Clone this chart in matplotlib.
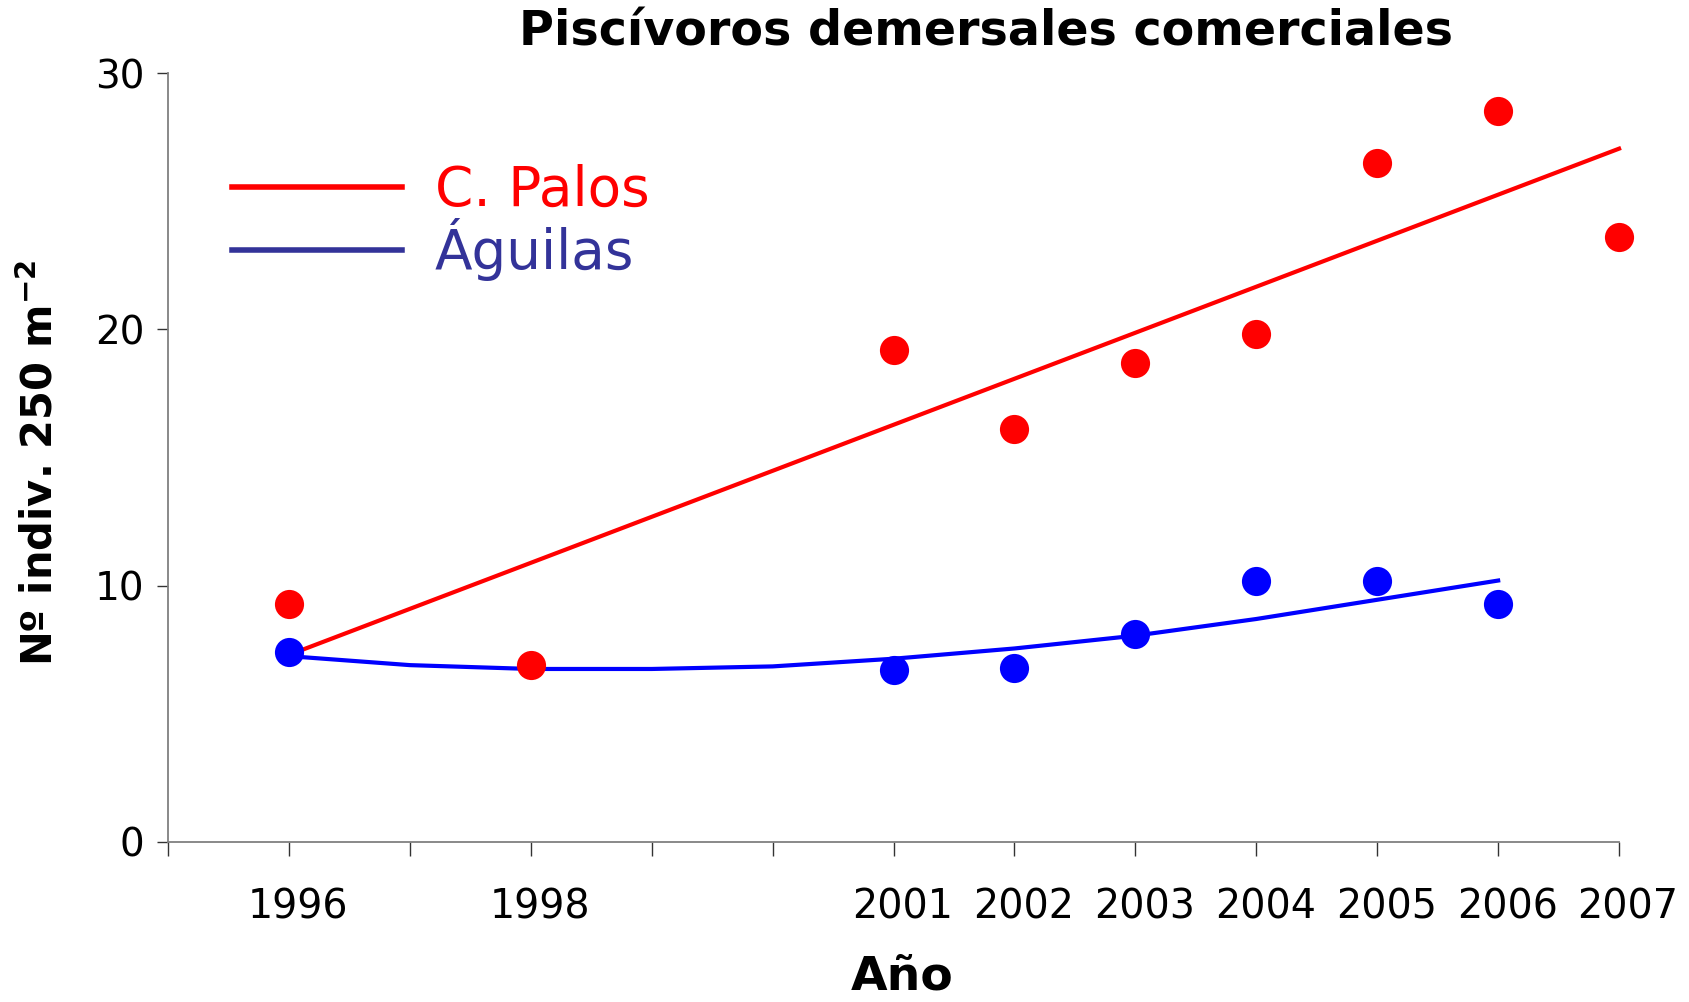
import matplotlib
matplotlib.use('Agg')
import matplotlib.pyplot as plt
from matplotlib.lines import Line2D
from matplotlib.transforms import ScaledTranslation

# observed values
years_palos = [1996, 1998, 2001, 2002, 2003, 2004, 2005, 2006, 2007]
palos = [9.3, 6.9, 19.2, 16.1, 18.7, 19.8, 26.5, 28.5, 23.6]
years_aguilas = [1996, 2001, 2002, 2003, 2004, 2005, 2006]
aguilas = [7.4, 6.7, 6.8, 8.1, 10.2, 10.2, 9.3]

# fitted trends
trend_palos_years = [1996, 2007]
trend_palos = [7.3, 27.05]
trend_aguilas_years = [1996, 1997, 1998, 1999, 2000, 2001, 2002, 2003, 2004, 2005, 2006]
trend_aguilas = [7.25, 6.9, 6.75, 6.75, 6.85, 7.15, 7.55, 8.05, 8.7, 9.45, 10.2]

tick_years = list(range(1995, 2008))
shown_labels = [1996, 1998, 2001, 2002, 2003, 2004, 2005, 2006, 2007]

plt.rcParams['font.family'] = ['DejaVu Sans']

fig = plt.figure(figsize=(16.89, 10.02), dpi=100)
ax = fig.add_axes([0.0995, 0.1597, 0.8591, 0.7674])

ax.plot(trend_palos_years, trend_palos, color='#ff0000', lw=3, clip_on=False)
ax.plot(trend_aguilas_years, trend_aguilas, color='#0000ff', lw=3, clip_on=False)
ax.plot(years_palos, palos, 'o', color='#ff0000', ms=21, mec='none', clip_on=False)
ax.plot(years_aguilas, aguilas, 'o', color='#0000ff', ms=21, mec='none', clip_on=False)

ax.set_xlim(1995, 2007)
ax.set_ylim(0, 30)
ax.set_xticks(tick_years)
ax.set_xticklabels([str(y) if y in shown_labels else '' for y in tick_years])
ax.set_yticks([0, 10, 20, 30])

for s in ['top', 'right']:
    ax.spines[s].set_visible(False)
for s in ['left', 'bottom']:
    ax.spines[s].set_color('#808080')
    ax.spines[s].set_linewidth(1.3)

ax.tick_params(axis='x', direction='out', length=10, width=1, color='#333333',
               labelsize=28.5, pad=23)
ax.tick_params(axis='y', direction='out', length=8, width=1, color='#333333',
               labelsize=28, pad=9)

# year labels sit a little right of their ticks in the original
shift = ScaledTranslation(0.09, 0, fig.dpi_scale_trans)
for lab in ax.get_xticklabels():
    lab.set_transform(lab.get_transform() + shift)

# axis titles placed in figure coords
fig.text(0.534, 0.025, 'Año', fontsize=34, fontweight='bold',
         ha='center', va='center')
fig.text(0.024, 0.538, 'Nº indiv. 250 m$^{\\mathbf{-2}}$', fontsize=30,
         fontweight='bold', rotation=90, ha='center', va='center')

fig.text(0.584, 0.968, 'Piscívoros demersales comerciales', fontsize=34.3,
         fontweight='bold', ha='center', va='center')

handles = [Line2D([0], [0], color='#ff0000', lw=4),
           Line2D([0], [0], color='#333399', lw=4)]
leg = ax.legend(handles, ['C. Palos', 'Águilas'], loc='upper left',
                bbox_to_anchor=(0.044, 0.882), frameon=False, fontsize=39.5,
                handlelength=3.1, handletextpad=0.6, labelspacing=0.0,
                borderpad=0, borderaxespad=0)
leg.get_texts()[0].set_color('#ff0000')
leg.get_texts()[1].set_color('#333399')

fig.savefig('out.png', dpi=100)
